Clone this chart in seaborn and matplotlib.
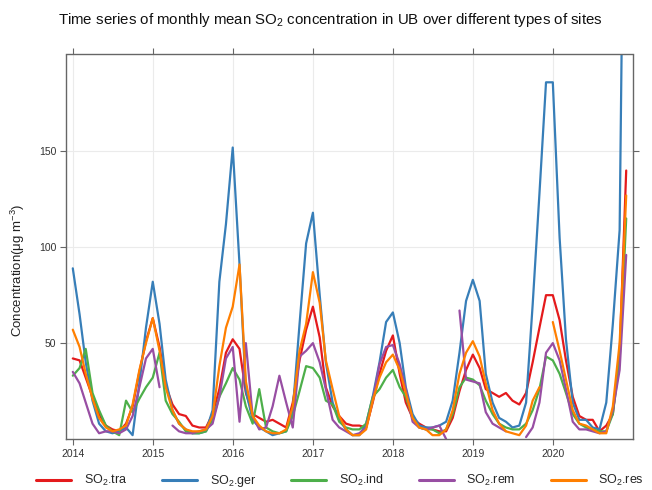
import numpy as np
import pandas as pd
import seaborn as sns
import matplotlib
matplotlib.use("Agg")
import matplotlib.pyplot as plt
from matplotlib.lines import Line2D

nan = np.nan

# Monthly means, Jan 2014 .. Dec 2020
tra = [42, 41, 32, 22, 13, 7, 5, 4, 8, 17, 35, 51,
       63, 48, 28, 18, 13, 12, 7, 6, 6, 13, 26, 45,
       52, 47, 24, 13, 11, 9, 10, 8, 6, 19, 41, 57,
       69, 53, 27, 17, 12, 8, 7, 7, 6, 19, 34, 46,
       54, 34, 19, 11, 8, 6, 5, 4, 4, 11, 25, 36,
       44, 37, 26, 24, 22, 24, 20, 18, 24, 40, 58, 75,
       75, 62, 41, 22, 12, 10, 10, 4, 7, 13, 45, 140]
ger = [89, 65, 40, 20, 8, 4, 3, 4, 6, 2, 29, 58,
       82, 60, 31, 15, 8, 5, 3, 3, 4, 15, 82, 112,
       152, 91, 25, 10, 6, 4, 2, 3, 4, 15, 60, 102,
       118, 75, 40, 19, 10, 5, 2, 2, 8, 22, 40, 61,
       66, 50, 27, 13, 7, 6, 6, 7, 9, 20, 45, 72,
       83, 72, 34, 19, 11, 9, 6, 7, 19, 70, 128, 186,
       186, 105, 52, 19, 10, 10, 6, 5, 19, 60, 109, 420]
ind = [33, 37, 47, 24, 15, 7, 4, 2, 20, 14, 21, 27,
       32, 45, 20, 13, 9, 4, 3, 3, 4, 10, 22, 29,
       37, 31, 17, 8, 26, 6, 4, 3, 4, 12, 25, 38,
       37, 32, 20, 18, 9, 6, 5, 5, 8, 22, 26, 32,
       36, 27, 22, 11, 6, 5, 5, 3, 5, 13, 27, 32,
       31, 28, 20, 13, 8, 6, 5, 5, 8, 15, 26, 43,
       41, 34, 24, 13, 8, 6, 5, 4, 4, 13, 41, 115]
rem = [35, 29, 19, 8, 3, 4, 4, 3, 5, 12, 27, 42,
       47, 27, nan, 7, 4, 3, 3, 4, 5, 8, 22, 42,
       48, 9, 50, 12, 5, 6, 17, 33, 19, 6, 43, 46,
       50, 40, 26, 10, 6, 4, 2, 3, 6, 20, 39, 48,
       49, 39, 26, 9, 6, 5, 6, 7, 0, nan, 67, 31,
       30, 29, 14, 8, 6, 4, nan, nan, 1, 6, 19, 45,
       50, 41, 26, 9, 5, 5, 4, 3, 4, 15, 36, 96]
res = [57, 48, 34, 21, 11, 6, 4, 5, 7, 18, 36, 50,
       63, 46, 27, 15, 8, 5, 4, 4, 5, 12, 38, 58,
       69, 91, 30, 12, 7, 4, 3, 3, 5, 17, 46, 60,
       87, 71, 41, 26, 12, 5, 2, 2, 5, 20, 32, 40,
       44, 36, 24, 11, 6, 5, 2, 2, 5, 15, 34, 45,
       51, 43, 29, 15, 8, 4, 3, 2, 7, 20, 27, nan,
       61, 46, 31, 15, 8, 7, 5, 3, 3, 17, 50, 127]

site_labels = [r"SO$_2$.tra", r"SO$_2$.ger", r"SO$_2$.ind", r"SO$_2$.rem", r"SO$_2$.res"]
year_labels = ["2014", "2015", "2016", "2017", "2018", "2019", "2020"]
y_ticks = [50, 100, 150]

colors = ["#E41A1C", "#377EB8", "#4DAF4A", "#984EA3", "#FF7F00"]

sns.set_theme(style="white")
plt.rcParams['font.family'] = ['Liberation Sans', 'DejaVu Sans']
plt.rcParams['mathtext.fontset'] = 'custom'
plt.rcParams['mathtext.rm'] = 'Liberation Sans'
plt.rcParams['mathtext.it'] = 'Liberation Sans:italic'
plt.rcParams['mathtext.bf'] = 'Liberation Sans:bold'

dates = pd.date_range("2014-01-01", periods=84, freq="MS")
frames = []
for lab, vals in zip(site_labels, [tra, ger, ind, rem, res]):
    v = np.array(vals, dtype=float)
    seg = np.cumsum(np.isnan(v))
    d = pd.DataFrame({"date": dates, "value": v, "site": lab, "seg": seg})
    frames.append(d.dropna())
data = pd.concat(frames, ignore_index=True)

fig = plt.figure(figsize=(6.52, 4.90), dpi=100)
ax = fig.add_axes([66 / 652, 1 - 439 / 490, (633 - 66) / 652, (439 - 54.5) / 490])

sns.lineplot(data=data, x="date", y="value", hue="site", units="seg",
             estimator=None, hue_order=site_labels,
             palette=dict(zip(site_labels, colors)), linewidth=1.6,
             ax=ax, legend=False)

ax.set_xlim(pd.Timestamp("2013-12-01"), pd.Timestamp("2021-01-01"))
ax.set_ylim(0, 200.5)
ax.set_xticks([pd.Timestamp(f"{y}-01-01") for y in year_labels])
ax.set_xticklabels(year_labels)
ax.set_yticks(y_ticks)
ax.set_yticklabels([str(t) for t in y_ticks])
ax.set_xlabel("")
ax.set_ylabel("")
ax.grid(True, color="#ebebeb", linewidth=0.8)
ax.set_axisbelow(True)
for s in ax.spines.values():
    s.set_color("#666666")
    s.set_linewidth(1.0)
ax.tick_params(axis="both", which="both", direction="out", length=4, width=0.8,
               top=True, right=True, bottom=True, left=True,
               labeltop=False, labelright=False, colors="#666666",
               labelcolor="#333333", labelsize=7.5, pad=3)

fig.text(58 / 652, 1 - 20 / 490,
         "Time series of monthly mean SO$_2$ concentration in UB over different types of sites",
         fontsize=10.8, ha="left", va="center", color="#111111")
fig.text(18 / 652, 1 - 270 / 490, "Concentration(μg m$^{-3}$)", rotation=90,
         fontsize=9.5, ha="center", va="center", color="#222222")

handles = [Line2D([0], [0], color=c, lw=2.2) for c in colors]
fig.legend(handles, site_labels, loc="center", bbox_to_anchor=(340 / 652, 9 / 490),
           ncol=5, frameon=False, fontsize=9, handlelength=2.8,
           handletextpad=1.0, columnspacing=2.8)

fig.savefig("out.png", dpi=100)
